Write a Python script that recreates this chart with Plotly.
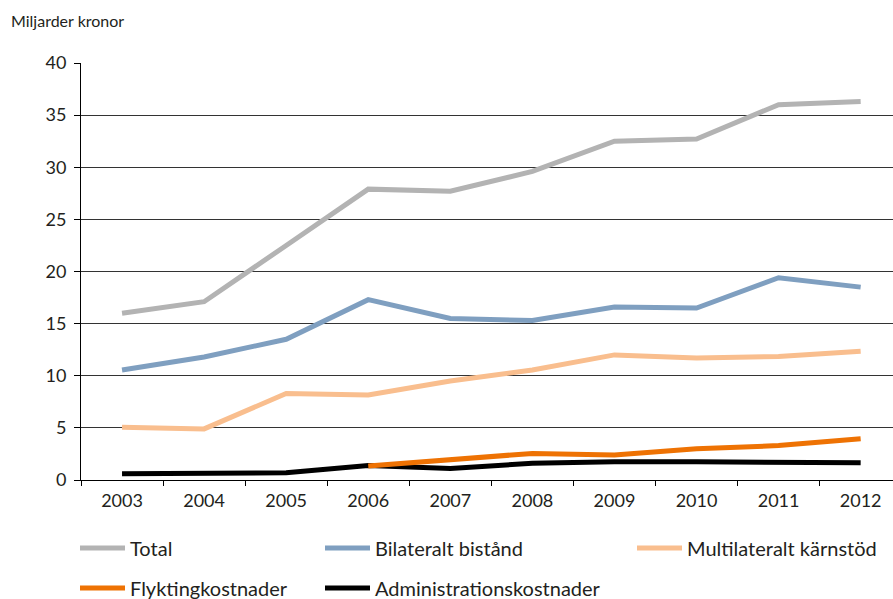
import plotly.graph_objects as go

years = ["2003", "2004", "2005", "2006", "2007", "2008", "2009", "2010", "2011", "2012"]
total = [16.0, 17.1, 22.5, 27.9, 27.7, 29.6, 32.5, 32.7, 36.0, 36.3]
bilateralt = [10.55, 11.8, 13.5, 17.3, 15.5, 15.3, 16.6, 16.5, 19.4, 18.5]
multilateralt = [5.05, 4.9, 8.3, 8.15, 9.5, 10.55, 12.0, 11.7, 11.85, 12.35]
flykting = [None, None, None, 1.35, 1.9, 2.55, 2.4, 3.0, 3.3, 3.95]
admin = [0.6, 0.6, 0.7, 1.4, 1.1, 1.6, 1.75, 1.75, 1.75, 1.65]

names = ["Total", "Bilateralt bistånd", "Multilateralt kärnstöd", "Flyktingkostnader", "Administrationskostnader"]
colors = ["#b3b3b3", "#7f9fc0", "#f9be8e", "#ee7203", "#000000"]
series = [total, bilateralt, multilateralt, flykting, admin]
legend_ids = ["legend", "legend2", "legend3", "legend4", "legend5"]
# legend positions (px in container)
leg_pos = [(75, 548), (320, 548), (632, 548), (75, 588), (320, 588)]

W, H = 893, 599
L, R, T, B = 81, 0, 63, 119
fig = go.Figure()
draw_order = [0, 1, 2, 4, 3]
for i in draw_order:
    fig.add_trace(go.Scatter(
        x=years, y=series[i], name=names[i], mode="lines",
        line=dict(color=colors[i], width=5),
        legend=legend_ids[i], connectgaps=False,
    ))

font_family = "Lato, 'Open Sans', sans-serif"
layout_legends = {}
for i, lid in enumerate(legend_ids):
    px, py = leg_pos[i]
    layout_legends[lid] = dict(
        x=px / W, y=1 - py / H, xref="container", yref="container",
        xanchor="left", yanchor="middle", itemwidth=45,
        font=dict(size=20, color="#231f20", family=font_family),
        bgcolor="rgba(0,0,0,0)", borderwidth=0,
    )

fig.update_layout(
    width=W, height=H,
    margin=dict(l=L, r=R, t=T, b=B, autoexpand=False),
    plot_bgcolor="white", paper_bgcolor="white",
    showlegend=True,
    font=dict(family=font_family, color="#231f20"),
    **layout_legends,
)
fig.update_xaxes(
    type="category", range=[-0.5, 9.394], tickson="boundaries",
    showgrid=False, showline=True, linecolor="black", linewidth=1,
    ticks="outside", ticklen=5, tickcolor="black", tickangle=0,
    ticklabelstandoff=4,
    tickfont=dict(size=18, color="#231f20"),
)
fig.update_yaxes(
    range=[0, 40], dtick=5, showgrid=True, gridcolor="#333333", gridwidth=1,
    showline=True, linecolor="black", linewidth=1,
    ticks="outside", ticklen=6, tickcolor="black", ticklabelstandoff=4,
    tickfont=dict(size=18, color="#231f20"), zeroline=False,
)
plot_w = W - L - R
plot_h = H - T - B
fig.add_annotation(
    text="Miljarder kronor", x=(9 - L) / plot_w, y=(H - B - 21) / plot_h,
    xref="paper", yref="paper",
    showarrow=False, xanchor="left", yanchor="middle",
    font=dict(size=16, color="#231f20", family=font_family),
)
fig.write_html("out.html")
